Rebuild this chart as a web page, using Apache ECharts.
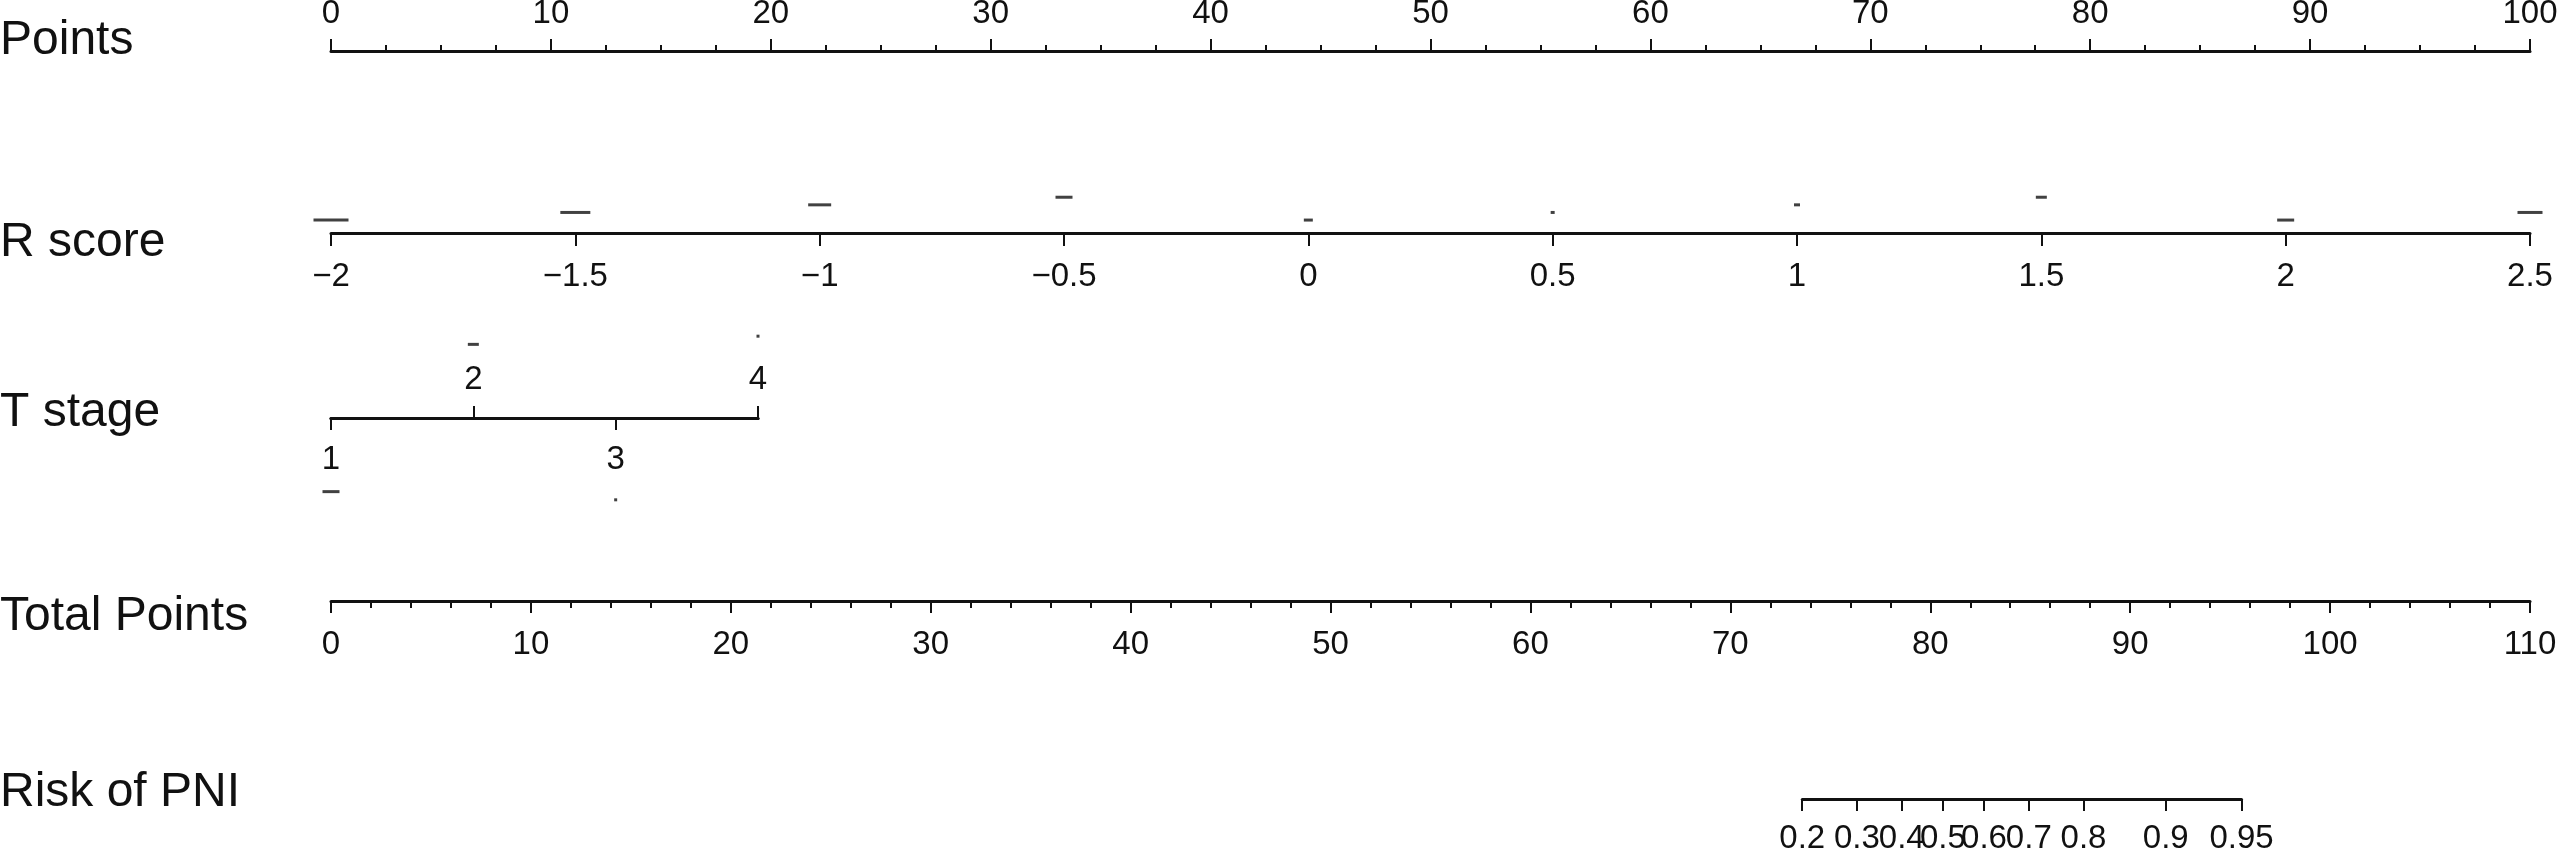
<!DOCTYPE html>
<html>
<head>
    <meta charset="utf-8">
    <title>Nomogram</title>
    <script src="https://cdn.jsdelivr.net/npm/echarts@6/dist/echarts.min.js"></script>
    <style>
        html, body { margin: 0; padding: 0; background: #fff; }
        #main { width: 2559px; height: 852px; }
    </style>
</head>
<body>
<div id="main"></div>
<script>
    // scales of each row
    var pointsRange = [0, 100];
    var rScoreRange = [-2, 2.5];
    var tStageRange = [1, 4];
    var tStageUp = [2, 4];
    var tStageDown = [1, 3];
    var totalRange = [0, 110];
    var riskTicks = [0.2, 0.3, 0.4, 0.5, 0.6, 0.7, 0.8, 0.9, 0.95];
    // total points = riskIntercept + riskSlope * logit(p)
    var riskIntercept = 80.63;
    var riskSlope = 5.074;

    // small stray marks near the R score and T stage scales
    var rScoreMarkX = [-2, -1.5, -1, -0.5, 0, 0.5, 1, 1.5, 2, 2.5];
    var rScoreMarkLevel = [1, 2, 3, 4, 1, 2, 3, 4, 1, 2];
    var tStageMarkX = [1, 2, 3, 4];
    var tStageMarkLevel = [-0.9, 0.9, -1, 1];

    var rScoreMarkLen = [35, 30, 23, 17, 9, 4, 6, 11, 17, 25];
    var tStageMarkLen = [17, 11, 3, 3];

    var FONT = "'Liberation Sans', Arial, Helvetica, sans-serif";
    var INK = '#111';
    var X0 = 331, X1 = 2530, RIGHT = 2559 - X1;
    var pxPerTotal = (X1 - X0) / (totalRange[1] - totalRange[0]);

    function tp(p) {
        return riskIntercept + riskSlope * Math.log(p / (1 - p));
    }
    function fromTp(v) {
        var p = 1 / (1 + Math.exp(-(v - riskIntercept) / riskSlope));
        return String(+p.toFixed(2));
    }
    function minus(v) {
        return String(v).replace('-', '\u2212');
    }

    var riskLeft = X0 + tp(riskTicks[0]) * pxPerTotal;
    var riskRight = X0 + tp(riskTicks[riskTicks.length - 1]) * pxPerTotal;

    function baseAxis(extra) {
        var a = {
            type: 'value',
            axisLine: { show: true, onZero: false, lineStyle: { color: INK, width: 3 } },
            axisTick: { show: true, length: 12, lineStyle: { color: INK, width: 2 } },
            axisLabel: { show: true, color: INK, fontFamily: FONT, fontSize: 33, margin: 26 },
            splitLine: { show: false }
        };
        for (var k in extra) {
            if (typeof extra[k] === 'object' && a[k] && !Array.isArray(extra[k])) {
                for (var j in extra[k]) a[k][j] = extra[k][j];
            } else {
                a[k] = extra[k];
            }
        }
        return a;
    }
    function hiddenY(idx, min, max) {
        return { type: 'value', gridIndex: idx, show: false, min: min, max: max };
    }

    var rowLabels = [
        { text: 'Points', y: 41 },
        { text: 'R score', y: 243 },
        { text: 'T stage', y: 413 },
        { text: 'Total Points', y: 617 },
        { text: 'Risk of PNI', y: 793 }
    ];

    var myChart = echarts.init(document.getElementById('main'));
    var option = {
        backgroundColor: '#fff',
        animation: false,
        grid: [
            { left: X0, right: RIGHT, top: 51, height: 0, containLabel: false, outerBoundsMode: 'none' },
            { left: X0, right: RIGHT, top: 190, height: 43, containLabel: false, outerBoundsMode: 'none' },
            { left: X0, width: 427, top: 418, height: 0, containLabel: false, outerBoundsMode: 'none' },
            { left: X0, width: 427, top: 328, height: 180, containLabel: false, outerBoundsMode: 'none' },
            { left: X0, right: RIGHT, top: 601, height: 0, containLabel: false, outerBoundsMode: 'none' },
            { left: riskLeft, width: riskRight - riskLeft, top: 799, height: 0, containLabel: false, outerBoundsMode: 'none' }
        ],
        xAxis: [
            baseAxis({
                gridIndex: 0, position: 'top', min: pointsRange[0], max: pointsRange[1], interval: 10,
                minorTick: { show: true, splitNumber: 4, length: 6, lineStyle: { color: INK, width: 2 } },
                axisLabel: { margin: 21 }
            }),
            baseAxis({
                gridIndex: 1, position: 'bottom', min: rScoreRange[0], max: rScoreRange[1], interval: 0.5,
                axisTick: { length: 13 },
                axisLabel: { margin: 27, formatter: minus }
            }),
            baseAxis({
                gridIndex: 2, position: 'bottom', min: tStageRange[0], max: tStageRange[1],
                axisTick: { customValues: tStageDown },
                axisLabel: { margin: 25, customValues: tStageDown }
            }),
            baseAxis({
                gridIndex: 2, position: 'top', min: tStageRange[0], max: tStageRange[1],
                axisTick: { customValues: tStageUp },
                axisLabel: { margin: 22, customValues: tStageUp }
            }),
            { type: 'value', gridIndex: 3, show: false, min: tStageRange[0], max: tStageRange[1] },
            baseAxis({
                gridIndex: 4, position: 'bottom', min: totalRange[0], max: totalRange[1], interval: 10,
                minorTick: { show: true, splitNumber: 5, length: 7, lineStyle: { color: INK, width: 2 } },
                axisLabel: { margin: 27 }
            }),
            baseAxis({
                gridIndex: 5, position: 'bottom',
                min: tp(riskTicks[0]), max: tp(riskTicks[riskTicks.length - 1]),
                axisTick: { customValues: riskTicks.map(tp) },
                axisLabel: { margin: 23, customValues: riskTicks.map(tp), formatter: fromTp,
                    showMinLabel: true, showMaxLabel: true }
            })
        ],
        yAxis: [
            hiddenY(0, 0, 1),
            hiddenY(1, -0.7, 4.95),
            hiddenY(2, 0, 1),
            hiddenY(3, -1.1, 1.1),
            hiddenY(4, 0, 1),
            hiddenY(5, 0, 1)
        ],
        series: [
            {
                type: 'scatter',
                xAxisIndex: 1,
                yAxisIndex: 1,
                symbol: 'rect',
                itemStyle: { color: INK },
                silent: true,
                data: rScoreMarkX.map(function (x, i) {
                    return { value: [x, rScoreMarkLevel[i]], symbolSize: [rScoreMarkLen[i], 3] };
                })
            },
            {
                type: 'scatter',
                xAxisIndex: 4,
                yAxisIndex: 3,
                symbol: 'rect',
                itemStyle: { color: INK },
                silent: true,
                data: tStageMarkX.map(function (x, i) {
                    return { value: [x, tStageMarkLevel[i]], symbolSize: [tStageMarkLen[i], 3] };
                })
            }
        ],
        graphic: rowLabels.map(function (r) {
            return {
                type: 'text',
                left: 0,
                top: r.y - 24,
                style: {
                    text: r.text,
                    fill: INK,
                    font: '48px ' + FONT,
                    verticalAlign: 'top'
                }
            };
        })
    };
    myChart.setOption(option);
</script>
</body>
</html>
